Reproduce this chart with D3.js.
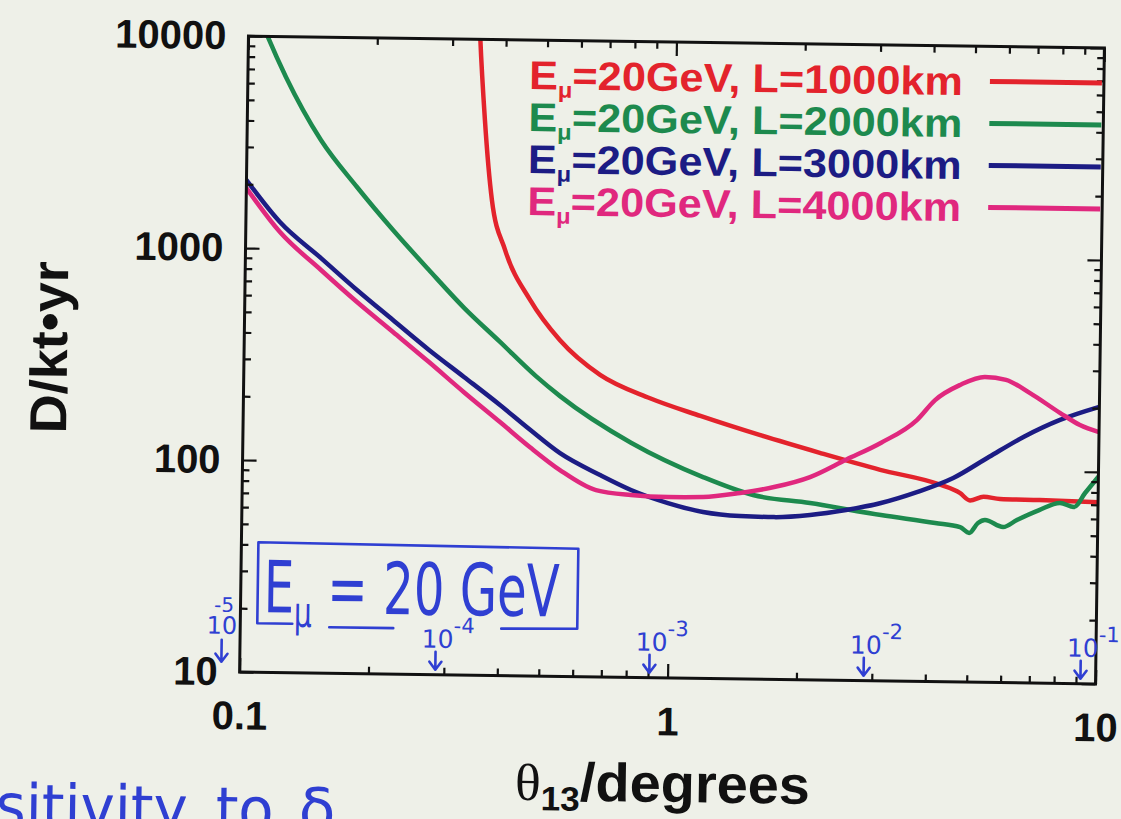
<!DOCTYPE html>
<html>
<head>
<meta charset="utf-8">
<script src="https://cdn.jsdelivr.net/npm/d3@7"></script>
<style>
  html, body { margin: 0; padding: 0; background: #eef0e8; }
  svg { display: block; }
</style>
</head>
<body>
<svg id="chart" width="1121" height="819"></svg>
<script>
// ---- data: minimum detector size (D/kt·yr) vs theta13 (degrees), E_mu = 20 GeV ----
const legendLabels = ["=20GeV, L=1000km", "=20GeV, L=2000km", "=20GeV, L=3000km", "=20GeV, L=4000km"];
const seriesColors = ["#e3232c", "#1d8a4e", "#1c1c84", "#e0287e"];

const thetaL1000 = [0.344, 0.348, 0.359, 0.375, 0.404, 0.464, 0.546, 0.680, 0.891, 1.17, 1.61, 2.23, 3.09, 4.27, 4.75, 5.02, 5.4, 5.9, 7.3, 10];
const dL1000     = [16000, 10200, 4170, 1750, 1020, 594, 386, 266, 208, 173, 142, 118, 99, 85, 78, 72, 75, 73.5, 73, 72];

const thetaL2000 = [0.108, 0.111, 0.1227, 0.1488, 0.1813, 0.2208, 0.2687, 0.3255, 0.396, 0.4816, 0.549, 0.807, 1.192, 1.562, 2.124, 3.114, 4.17, 4.77, 5.01, 5.25, 5.45, 6.01, 6.47, 7.29, 8.15, 8.79, 9.32, 10];
const dL2000     = [11300, 9930, 6450, 3270, 1974, 1244, 810, 540, 375, 260, 210, 128, 89.1, 73.9, 68.3, 60.6, 56.1, 53.8, 50.6, 56.4, 58.3, 54.2, 58.6, 65.5, 71.0, 68.1, 79.4, 95];

const thetaL3000 = [0.1, 0.1201, 0.1502, 0.1827, 0.2222, 0.2704, 0.327, 0.3977, 0.4686, 0.5514, 0.6849, 0.81, 0.989, 1.195, 1.459, 1.752, 2.126, 2.579, 3.11, 3.77, 4.58, 5.55, 6.68, 8.10, 10];
const dL3000     = [2094, 1334, 907, 645, 468, 340, 255, 189, 145, 113, 89.7, 76.6, 66.8, 61.0, 58.7, 58.3, 60.0, 63.7, 69.1, 78.2, 91.6, 116, 145, 175, 203];

const thetaL4000 = [0.1, 0.1202, 0.1503, 0.1829, 0.2225, 0.2706, 0.3273, 0.3983, 0.469, 0.5518, 0.6709, 0.81, 0.989, 1.194, 1.457, 1.748, 2.12, 2.57, 3.10, 3.75, 4.13, 4.72, 5.39, 6.04, 6.88, 8.09, 9.02, 10];
const dL4000     = [1919, 1196, 797, 566, 411, 298, 216, 157, 120, 94.1, 76.1, 72.5, 71.3, 71.7, 75.4, 80.8, 90.6, 110, 133, 171, 213, 252, 276, 268, 233, 189, 166, 154];

// axis ticks
const xMajorTicks = [0.1, 1, 10];
const xTickLabels = ["0.1", "1", "10"];
const yMajorTicks = [10, 100, 1000, 10000];
const yTickLabels = ["10", "100", "1000", "10000"];

// sin^2(2 theta13) reference marks written under the axis
const sin2Marks = [1e-5, 1e-4, 1e-3, 1e-2, 1e-1];
const sin2Exponents = ["-5", "-4", "-3", "-2", "-1"];

// ---- layout ----
const W = 1121, H = 819;
const L = 244, R = 1100, T = 42, B = 678;
const ink = "#2f3fd2";

const x = d3.scaleLog().domain([0.1, 10]).range([L, R]);
const y = d3.scaleLog().domain([10, 10000]).range([B, T]);

const svg = d3.select("#chart");
svg.append("rect").attr("width", W).attr("height", H).attr("fill", "#eef0e8");

// the whole page sits slightly tilted
const g = svg.append("g").attr("transform", "rotate(0.8,672,360)");

g.append("clipPath").attr("id", "plotArea")
  .append("rect").attr("x", L).attr("y", T).attr("width", R - L).attr("height", B - T);

// ---- curves ----
const series = [
  { theta: thetaL1000, d: dL1000 },
  { theta: thetaL2000, d: dL2000 },
  { theta: thetaL3000, d: dL3000 },
  { theta: thetaL4000, d: dL4000 }
];
const line = d3.line().x(p => x(p[0])).y(p => y(p[1])).curve(d3.curveMonotoneX);

series.forEach((s, i) => {
  g.append("path")
    .attr("clip-path", "url(#plotArea)")
    .attr("d", line(d3.zip(s.theta, s.d)))
    .attr("fill", "none")
    .attr("stroke", seriesColors[i])
    .attr("stroke-width", 4.5)
    .attr("stroke-linejoin", "round")
    .attr("stroke-linecap", "round");
});

// ---- axes (ticks point inward, mirrored on top/right) ----
const minorX = [];
[0.1, 1].forEach(dec => { for (let k = 2; k <= 9; k++) minorX.push(dec * k); });
const minorY = [];
[10, 100, 1000].forEach(dec => { for (let k = 2; k <= 9; k++) minorY.push(dec * k); });

const tickFont = "'Liberation Sans', Arial, sans-serif";

function styleAxis(sel) {
  sel.select(".domain").remove();
  sel.selectAll(".tick line").attr("stroke", "#111").attr("stroke-width", 2.2);
  sel.selectAll(".tick text")
    .attr("font-family", tickFont).attr("font-weight", "bold")
    .attr("font-size", 40).attr("fill", "#111");
}

g.append("g").attr("transform", `translate(0,${B})`)
  .call(d3.axisBottom(x).tickValues(xMajorTicks).tickFormat((d, i) => xTickLabels[i])
    .tickSizeInner(-14).tickSizeOuter(0).tickPadding(29))
  .call(styleAxis);
g.append("g").attr("transform", `translate(0,${B})`)
  .call(d3.axisBottom(x).tickValues(minorX).tickFormat("").tickSizeInner(-7).tickSizeOuter(0))
  .call(styleAxis);
g.append("g").attr("transform", `translate(0,${T})`)
  .call(d3.axisTop(x).tickValues(xMajorTicks).tickFormat("").tickSizeInner(-14).tickSizeOuter(0))
  .call(styleAxis);
g.append("g").attr("transform", `translate(0,${T})`)
  .call(d3.axisTop(x).tickValues(minorX).tickFormat("").tickSizeInner(-7).tickSizeOuter(0))
  .call(styleAxis);

g.append("g").attr("transform", `translate(${L},0)`)
  .call(d3.axisLeft(y).tickValues(yMajorTicks).tickFormat((d, i) => yTickLabels[i])
    .tickSizeInner(-14).tickSizeOuter(0).tickPadding(22))
  .call(styleAxis);
g.append("g").attr("transform", `translate(${L},0)`)
  .call(d3.axisLeft(y).tickValues(minorY).tickFormat("").tickSizeInner(-7).tickSizeOuter(0))
  .call(styleAxis);
g.append("g").attr("transform", `translate(${R},0)`)
  .call(d3.axisRight(y).tickValues(yMajorTicks).tickFormat("").tickSizeInner(-14).tickSizeOuter(0))
  .call(styleAxis);
g.append("g").attr("transform", `translate(${R},0)`)
  .call(d3.axisRight(y).tickValues(minorY).tickFormat("").tickSizeInner(-7).tickSizeOuter(0))
  .call(styleAxis);

g.append("rect").attr("x", L).attr("y", T).attr("width", R - L).attr("height", B - T)
  .attr("fill", "none").attr("stroke", "#111").attr("stroke-width", 3);

// ---- axis titles ----
g.append("text")
  .attr("transform", `translate(67,356) rotate(-90)`)
  .attr("text-anchor", "middle")
  .attr("font-family", tickFont).attr("font-weight", "bold").attr("font-size", 52)
  .attr("fill", "#111")
  .attr("textLength", 172).attr("lengthAdjust", "spacingAndGlyphs")
  .text("D/kt\u2022yr");

const xTitle = g.append("text")
  .attr("font-family", tickFont).attr("font-weight", "bold").attr("fill", "#111");
xTitle.append("tspan").attr("font-family", "'Liberation Serif', 'DejaVu Serif', serif")
  .attr("font-weight", "normal").attr("font-size", 52).text("\u03b8");
xTitle.append("tspan").attr("font-size", 34).attr("dy", 10).text("13");
xTitle.append("tspan").attr("font-size", 54).attr("dy", -10).text("/degrees");
fitText(xTitle, 295, 521, 802);

// ---- legend ----
const legendRowY = [77, 119, 161, 203];
legendLabels.forEach((lab, i) => {
  const t = g.append("text")
    .attr("font-family", tickFont).attr("font-weight", "bold")
    .attr("fill", seriesColors[i]).attr("text-anchor", "end");
  t.append("tspan").attr("font-size", 40).text("E");
  t.append("tspan").attr("font-size", 22).attr("dy", 8).text("\u03bc");
  t.append("tspan").attr("font-size", 40).attr("dy", -8).text(lab);
  fitTextEnd(t, 434, 959, legendRowY[i] + 14);
  g.append("line")
    .attr("x1", 986).attr("x2", R - 2)
    .attr("y1", legendRowY[i]).attr("y2", legendRowY[i])
    .attr("stroke", seriesColors[i]).attr("stroke-width", 5);
});

// ---- handwritten notes ----
// boxed beam-energy note
g.append("path")
  .attr("d", "M296,629 L261,629 L261,548 L581,550 L581,630 L505,631 M333,632 L397,632")
  .attr("fill", "none").attr("stroke", ink).attr("stroke-width", 2.6)
  .attr("stroke-linejoin", "round").attr("stroke-linecap", "round");
const note = g.append("text").attr("font-family", "'DejaVu Sans', sans-serif").attr("fill", ink);
note.append("tspan").attr("font-size", 72).text("E");
note.append("tspan").attr("font-size", 42).attr("dy", 14).text("\u03bc");
note.append("tspan").attr("font-size", 72).attr("dy", -14).text(" = 20 GeV");
fitText(note, 296, 267, 618);

// sin^2(2 theta) arrows along the theta axis
sin2Marks.forEach((s, i) => {
  const thetaDeg = Math.asin(Math.sqrt(s)) / 2 * 180 / Math.PI;
  const ax = x(thetaDeg);
  const outside = ax < L;
  const tip = outside ? 668 : 673;
  const tail = outside ? 646 : 655;
  g.append("path")
    .attr("d", `M${ax},${tail} L${ax},${tip} M${ax - 6},${tip - 8} L${ax},${tip} L${ax + 6},${tip - 8}`)
    .attr("fill", "none").attr("stroke", ink).attr("stroke-width", 2.6)
    .attr("stroke-linecap", "round").attr("stroke-linejoin", "round");
  const lab = g.append("text").attr("font-family", "'DejaVu Sans', sans-serif").attr("fill", ink);
  if (outside) {
    lab.attr("text-anchor", "middle");
    lab.append("tspan").attr("x", ax).attr("y", 640).attr("font-size", 24).text("10");
    lab.append("tspan").attr("x", ax + 2).attr("y", 618).attr("font-size", 20).text(sin2Exponents[i]);
  } else {
    lab.append("tspan").attr("x", ax - 14).attr("y", 651).attr("font-size", 25).text("10");
    lab.append("tspan").attr("dy", -15).attr("font-size", 21).text(sin2Exponents[i]);
  }
});

// cut-off caption at the page bottom
const cap = g.append("text").attr("font-family", "'DejaVu Sans', sans-serif").attr("fill", ink)
  .attr("font-size", 60).attr("y", 836);
cap.append("tspan").attr("x", 2).attr("textLength", 192).attr("lengthAdjust", "spacingAndGlyphs").text("sitivity");
cap.append("tspan").attr("x", 222).attr("textLength", 58).attr("lengthAdjust", "spacingAndGlyphs").text("to");
cap.append("tspan").attr("x", 305).text("\u03b4");

// ---- helpers: squeeze/stretch a text horizontally to a given width ----
function fitText(sel, width, x0, yBase) {
  sel.attr("transform", `translate(${x0},${yBase})`);
  const w = sel.node().getBBox().width;
  sel.attr("transform", `translate(${x0},${yBase}) scale(${width / w},1)`);
}
function fitTextEnd(sel, width, xEnd, yBase) {
  sel.attr("transform", `translate(${xEnd},${yBase})`);
  const w = sel.node().getBBox().width;
  sel.attr("transform", `translate(${xEnd},${yBase}) scale(${width / w},1)`);
}
</script>
</body>
</html>
